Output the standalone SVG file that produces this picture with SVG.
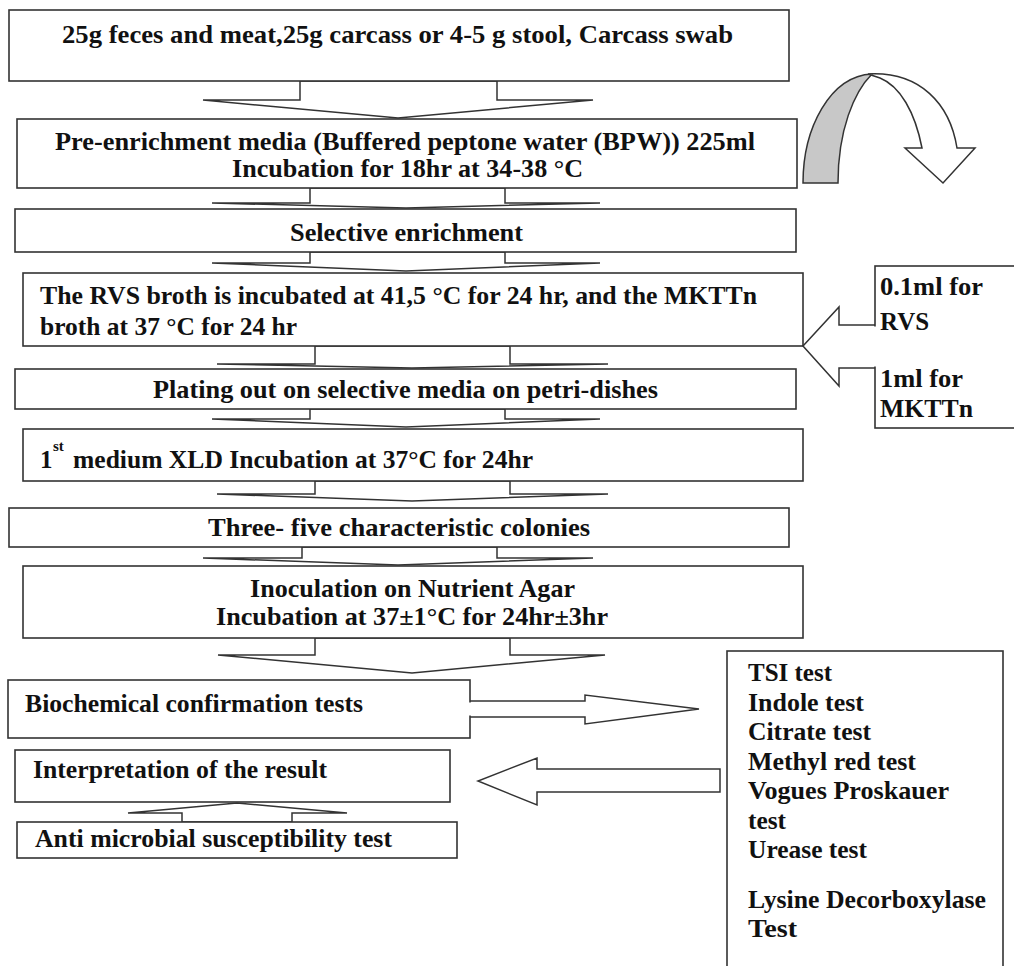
<svg xmlns="http://www.w3.org/2000/svg" width="1014" height="966" viewBox="0 0 1014 966">
<style>
.box{fill:#fff;stroke:#333;stroke-width:1.6}
.arr{fill:#fff;stroke:#333;stroke-width:1.5;stroke-linejoin:miter}
.fillonly{fill:#fff;stroke:none}
.line{fill:none;stroke:#333;stroke-width:1.5}
.t{font-family:"Liberation Serif","Times New Roman",serif;font-weight:bold;font-size:25px;fill:#111}
.sup{font-family:"Liberation Serif","Times New Roman",serif;font-weight:bold;font-size:15px;fill:#111}
</style>
<rect width="1014" height="966" fill="#fff"/>

<g id="connectors">
  <polygon class="arr" points="300,81 300,100 203,100 398,118 593,100 497,100 497,81"/>
  <polygon class="arr" points="310,188 310,203 212,203 406,208 600,203 505,203 505,188"/>
  <polygon class="arr" points="310,252 310,263 212,263 406,271 600,263 505,263 505,252"/>
  <polygon class="arr" points="315,346 315,364 217,364 412,368 608,364 510,364 510,346"/>
  <polygon class="arr" points="310,409 310,419 212,419 406,427 600,419 505,419 505,409"/>
  <polygon class="arr" points="315,481 315,494 217,494 412,501 608,494 510,494 510,481"/>
  <polygon class="arr" points="302,547 302,558 203,558 398,565 593,558 497,558 497,547"/>
  <polygon class="arr" points="315,638 315,655 218,655 412,673 605,655 510,655 510,638"/>
  <polygon class="arr" points="182,822 182,813 128,813 237,803 347,813 292,813 292,822"/>
  <polygon class="arr" points="720,769 537,769 537,758 478,781 537,805 537,792 720,792"/>
  <g id="curved-arrow">
    <path d="M803,183 C803,128 830,76 872,74 C854,92 838,130 838,183 Z" fill="#c8c8c8" stroke="#333" stroke-width="1.5"/>
    <path d="M868,74 C920,71 950,104 957,148 L975,148 L943,183 L905,148 L922,148 C915,112 900,86 880,78 Z" fill="#fff" stroke="#333" stroke-width="1.5"/>
  </g>
</g>

<g id="n1"><rect class="box" x="9" y="10" width="780" height="71"/>
<text class="t" x="62" y="43" textLength="671" lengthAdjust="spacingAndGlyphs">25g feces and meat,25g carcass or 4-5 g stool, Carcass swab</text></g>

<g id="n2"><rect class="box" x="17" y="119" width="780" height="69"/>
<text class="t" x="55" y="150" textLength="700" lengthAdjust="spacingAndGlyphs">Pre-enrichment media (Buffered peptone water (BPW)) 225ml</text>
<text class="t" x="232" y="177" textLength="351" lengthAdjust="spacingAndGlyphs">Incubation for 18hr at 34-38 °C</text></g>

<g id="n3"><rect class="box" x="15" y="209" width="781" height="43"/>
<text class="t" x="290" y="241" textLength="233" lengthAdjust="spacingAndGlyphs">Selective enrichment</text></g>

<g id="n4"><rect class="box" x="23" y="273" width="780" height="73"/>
<text class="t" x="40" y="304" textLength="717" lengthAdjust="spacingAndGlyphs">The RVS broth is incubated at 41,5 °C for 24 hr, and the MKTTn</text>
<text class="t" x="40" y="335" textLength="257" lengthAdjust="spacingAndGlyphs">broth at 37 °C for 24 hr</text></g>

<g id="n5"><rect class="box" x="15" y="369" width="781" height="40"/>
<text class="t" x="153" y="398" textLength="505" lengthAdjust="spacingAndGlyphs">Plating out on selective media on petri-dishes</text></g>

<g id="n6"><rect class="box" x="23" y="429" width="780" height="52"/>
<text class="t" x="40" y="468">1</text>
<text class="sup" x="53" y="451">st</text>
<text class="t" x="73" y="468" textLength="460" lengthAdjust="spacingAndGlyphs">medium XLD Incubation at 37°C for 24hr</text></g>

<g id="n7"><rect class="box" x="9" y="508" width="780" height="39"/>
<text class="t" x="208" y="536" textLength="382" lengthAdjust="spacingAndGlyphs">Three- five characteristic colonies</text></g>

<g id="n8"><rect class="box" x="23" y="566" width="780" height="72"/>
<text class="t" x="250" y="597" textLength="325" lengthAdjust="spacingAndGlyphs">Inoculation on Nutrient Agar</text>
<text class="t" x="216" y="625" textLength="392" lengthAdjust="spacingAndGlyphs">Incubation at 37±1°C for 24hr±3hr</text></g>

<g id="n9"><rect class="box" x="8" y="680" width="462" height="58"/>
<polygon class="fillonly" points="468,702.5 586,702.5 586,696 697,709 586,722 586,715.5 468,715.5"/>
<polyline class="line" points="470,701 585,701 585,695 699,709 585,724 585,717 470,717"/>
<text class="t" x="25" y="712" textLength="338" lengthAdjust="spacingAndGlyphs">Biochemical confirmation tests</text></g>

<g id="n10"><rect class="box" x="15" y="750" width="435" height="52"/>
<text class="t" x="33" y="778" textLength="294" lengthAdjust="spacingAndGlyphs">Interpretation of the result</text></g>

<g id="n11"><rect class="box" x="17" y="822" width="440" height="36"/>
<text class="t" x="35" y="847" textLength="357" lengthAdjust="spacingAndGlyphs">Anti microbial susceptibility test</text></g>

<g id="n12"><rect class="box" x="875" y="266" width="145" height="162"/>
<polygon class="fillonly" points="877,326.5 840,326.5 840,309 805,346 840,384 840,366.5 877,366.5"/>
<polyline class="line" points="875,325 839,325 839,307 803,346 839,386 839,368 875,368"/>
<text class="t" x="880" y="295" textLength="103" lengthAdjust="spacingAndGlyphs">0.1ml for</text>
<text class="t" x="880" y="330" textLength="49" lengthAdjust="spacingAndGlyphs">RVS</text>
<text class="t" x="880" y="387" textLength="83" lengthAdjust="spacingAndGlyphs">1ml for</text>
<text class="t" x="880" y="417" textLength="93" lengthAdjust="spacingAndGlyphs">MKTTn</text></g>

<g id="n13"><rect class="box" x="727" y="651" width="276" height="330"/>
<text class="t" x="748" y="681" textLength="84" lengthAdjust="spacingAndGlyphs">TSI test</text>
<text class="t" x="748" y="711" textLength="116" lengthAdjust="spacingAndGlyphs">Indole test</text>
<text class="t" x="748" y="740" textLength="123" lengthAdjust="spacingAndGlyphs">Citrate test</text>
<text class="t" x="748" y="770" textLength="168" lengthAdjust="spacingAndGlyphs">Methyl red test</text>
<text class="t" x="748" y="799" textLength="201" lengthAdjust="spacingAndGlyphs">Vogues Proskauer</text>
<text class="t" x="748" y="829" textLength="38" lengthAdjust="spacingAndGlyphs">test</text>
<text class="t" x="748" y="858" textLength="119" lengthAdjust="spacingAndGlyphs">Urease test</text>
<text class="t" x="748" y="908" textLength="238" lengthAdjust="spacingAndGlyphs">Lysine Decorboxylase</text>
<text class="t" x="748" y="937" textLength="49" lengthAdjust="spacingAndGlyphs">Test</text></g>
</svg>
